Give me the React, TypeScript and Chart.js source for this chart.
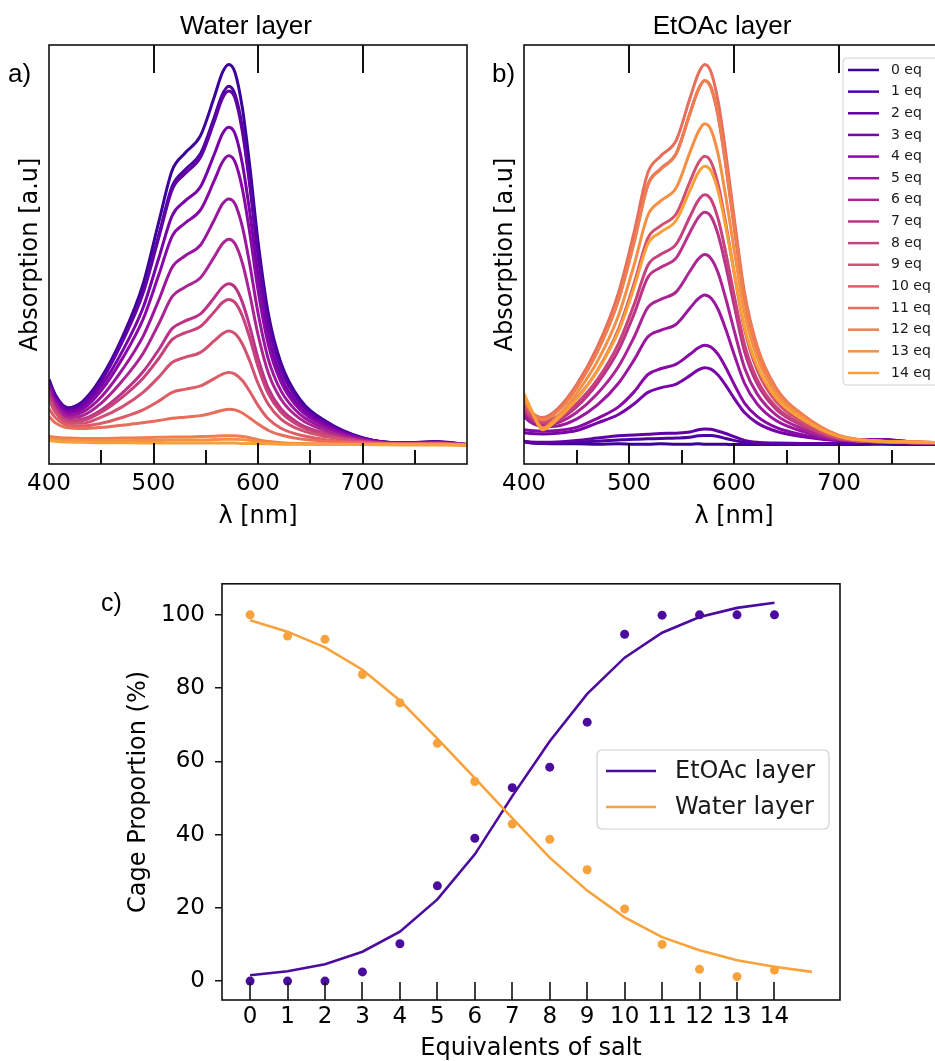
import React, { useEffect, useRef } from 'react';
import { Chart, registerables } from 'chart.js';
Chart.register(...registerables);

// ---------- Panels a) and b): spectra ----------
const wavelengths = [400, 406, 418, 432, 450, 470, 490, 505, 518, 530, 545, 558, 566, 572, 578, 585, 592, 600, 610, 622, 640, 665, 700, 740, 770, 800];
const xLabelValues = [400, 500, 600, 700];
const topTickValues = [500, 600, 700];
const majorTickValues = [500, 600, 700];
const minorTickValues = [450, 550, 650, 750];
const seriesLabels = ['0 eq', '1 eq', '2 eq', '3 eq', '4 eq', '5 eq', '6 eq', '7 eq', '8 eq', '9 eq', '10 eq', '11 eq', '12 eq', '13 eq', '14 eq'];
const seriesColors = ['#3a049a', '#4d02a2', '#6200a7', '#7702a8', '#8909a6', '#9a169f', '#aa2494', '#ba3388', '#c7417c', '#d25071', '#dd5e66', '#e66e5b', '#ef7e50', '#f58f44', '#faa039'];

// Water layer
const water0 = [0.172, 0.132, 0.098, 0.114, 0.177, 0.282, 0.422, 0.585, 0.722, 0.766, 0.812, 0.912, 0.978, 0.999, 0.978, 0.885, 0.735, 0.535, 0.343, 0.215, 0.120, 0.062, 0.019, 0.005, 0.009, 0.001];
const water1 = [0.168, 0.129, 0.096, 0.110, 0.170, 0.275, 0.405, 0.551, 0.680, 0.722, 0.765, 0.859, 0.921, 0.942, 0.921, 0.834, 0.692, 0.504, 0.323, 0.203, 0.113, 0.058, 0.018, 0.005, 0.008, 0.001];
const water2 = [0.165, 0.127, 0.094, 0.108, 0.167, 0.270, 0.398, 0.544, 0.671, 0.712, 0.755, 0.848, 0.910, 0.929, 0.910, 0.823, 0.684, 0.498, 0.319, 0.200, 0.112, 0.058, 0.018, 0.005, 0.008, 0.001];
const water3 = [0.158, 0.121, 0.089, 0.101, 0.155, 0.245, 0.360, 0.490, 0.603, 0.640, 0.678, 0.762, 0.817, 0.834, 0.817, 0.739, 0.614, 0.447, 0.287, 0.180, 0.101, 0.053, 0.017, 0.005, 0.007, 0.001];
const water4 = [0.153, 0.116, 0.084, 0.094, 0.143, 0.226, 0.330, 0.446, 0.549, 0.582, 0.617, 0.693, 0.743, 0.759, 0.743, 0.673, 0.559, 0.407, 0.262, 0.165, 0.093, 0.049, 0.016, 0.004, 0.006, 0.001];
const water5 = [0.146, 0.110, 0.078, 0.086, 0.126, 0.197, 0.285, 0.380, 0.467, 0.496, 0.525, 0.590, 0.633, 0.646, 0.633, 0.573, 0.476, 0.347, 0.224, 0.142, 0.081, 0.043, 0.014, 0.004, 0.005, 0.001];
const water6 = [0.139, 0.104, 0.072, 0.077, 0.110, 0.168, 0.240, 0.318, 0.390, 0.414, 0.439, 0.493, 0.528, 0.540, 0.528, 0.478, 0.397, 0.290, 0.188, 0.120, 0.069, 0.037, 0.012, 0.003, 0.005, 0.001];
const water7 = [0.130, 0.096, 0.065, 0.068, 0.092, 0.136, 0.192, 0.250, 0.306, 0.325, 0.344, 0.386, 0.414, 0.423, 0.414, 0.375, 0.312, 0.228, 0.148, 0.095, 0.055, 0.030, 0.010, 0.003, 0.004, 0.001];
const water8 = [0.126, 0.092, 0.062, 0.064, 0.086, 0.125, 0.175, 0.227, 0.277, 0.294, 0.311, 0.349, 0.374, 0.382, 0.374, 0.339, 0.282, 0.206, 0.134, 0.086, 0.050, 0.027, 0.009, 0.003, 0.004, 0.001];
const water9 = [0.118, 0.086, 0.057, 0.057, 0.073, 0.100, 0.138, 0.178, 0.217, 0.230, 0.243, 0.273, 0.292, 0.299, 0.292, 0.265, 0.221, 0.162, 0.106, 0.068, 0.040, 0.022, 0.008, 0.002, 0.003, 0.000];
const water10 = [0.095, 0.072, 0.052, 0.050, 0.057, 0.072, 0.092, 0.115, 0.138, 0.146, 0.155, 0.174, 0.186, 0.190, 0.186, 0.169, 0.141, 0.104, 0.068, 0.044, 0.026, 0.014, 0.005, 0.002, 0.003, 0.000];
const water11 = [0.075, 0.058, 0.045, 0.043, 0.046, 0.052, 0.058, 0.064, 0.070, 0.073, 0.077, 0.085, 0.091, 0.094, 0.092, 0.084, 0.071, 0.055, 0.038, 0.026, 0.016, 0.010, 0.005, 0.003, 0.003, 0.000];
const water12 = [0.022, 0.020, 0.018, 0.017, 0.017, 0.018, 0.019, 0.020, 0.021, 0.021, 0.022, 0.023, 0.024, 0.024, 0.024, 0.022, 0.019, 0.014, 0.009, 0.006, 0.004, 0.003, 0.002, 0.001, 0.002, 0.000];
const water13 = [0.016, 0.014, 0.012, 0.011, 0.011, 0.011, 0.012, 0.012, 0.013, 0.013, 0.013, 0.014, 0.015, 0.015, 0.015, 0.014, 0.012, 0.009, 0.006, 0.004, 0.003, 0.002, 0.001, 0.001, 0.001, 0.000];
const water14 = [0.012, 0.010, 0.008, 0.007, 0.006, 0.006, 0.005, 0.005, 0.005, 0.005, 0.005, 0.005, 0.005, 0.005, 0.005, 0.004, 0.004, 0.003, 0.003, 0.002, 0.002, 0.001, 0.001, 0.000, 0.000, 0.000];

// EtOAc layer
const etoac0 = [0.010, 0.006, 0.004, 0.003, 0.003, 0.002, 0.003, 0.002, 0.002, 0.003, 0.002, 0.002, 0.003, 0.002, 0.002, 0.002, 0.002, 0.001, 0.001, 0.001, 0.001, 0.001, 0.001, 0.002, 0.001, 0.001];
const etoac1 = [0.008, 0.006, 0.004, 0.005, 0.007, 0.010, 0.013, 0.015, 0.016, 0.017, 0.018, 0.020, 0.024, 0.025, 0.025, 0.022, 0.017, 0.012, 0.007, 0.004, 0.003, 0.002, 0.003, 0.008, 0.004, 0.003];
const etoac2 = [0.010, 0.008, 0.007, 0.008, 0.012, 0.018, 0.024, 0.026, 0.028, 0.030, 0.031, 0.034, 0.040, 0.042, 0.041, 0.036, 0.030, 0.022, 0.012, 0.007, 0.005, 0.004, 0.004, 0.010, 0.005, 0.004];
const etoac3 = [0.032, 0.030, 0.029, 0.031, 0.038, 0.058, 0.080, 0.108, 0.138, 0.150, 0.160, 0.182, 0.197, 0.203, 0.199, 0.183, 0.157, 0.123, 0.085, 0.058, 0.036, 0.022, 0.012, 0.014, 0.008, 0.005];
const etoac4 = [0.040, 0.038, 0.036, 0.038, 0.046, 0.070, 0.100, 0.140, 0.185, 0.200, 0.212, 0.238, 0.255, 0.262, 0.257, 0.237, 0.204, 0.160, 0.110, 0.075, 0.046, 0.027, 0.013, 0.014, 0.008, 0.006];
const etoac5 = [0.075, 0.060, 0.048, 0.050, 0.068, 0.105, 0.162, 0.224, 0.284, 0.301, 0.317, 0.359, 0.384, 0.394, 0.386, 0.355, 0.305, 0.239, 0.162, 0.108, 0.064, 0.036, 0.013, 0.010, 0.007, 0.005];
const etoac6 = [0.085, 0.066, 0.052, 0.058, 0.085, 0.135, 0.206, 0.284, 0.361, 0.382, 0.402, 0.456, 0.488, 0.500, 0.490, 0.451, 0.386, 0.302, 0.203, 0.134, 0.079, 0.043, 0.014, 0.008, 0.006, 0.005];
const etoac7 = [0.095, 0.072, 0.056, 0.065, 0.100, 0.162, 0.249, 0.345, 0.440, 0.466, 0.491, 0.558, 0.597, 0.611, 0.600, 0.551, 0.472, 0.368, 0.246, 0.161, 0.094, 0.051, 0.016, 0.008, 0.006, 0.005];
const etoac8 = [0.098, 0.075, 0.058, 0.068, 0.108, 0.172, 0.266, 0.370, 0.472, 0.500, 0.527, 0.599, 0.642, 0.657, 0.645, 0.592, 0.507, 0.395, 0.264, 0.172, 0.100, 0.054, 0.016, 0.008, 0.006, 0.005];
const etoac9 = [0.105, 0.080, 0.062, 0.076, 0.122, 0.196, 0.304, 0.425, 0.543, 0.575, 0.607, 0.691, 0.740, 0.758, 0.744, 0.683, 0.584, 0.455, 0.304, 0.197, 0.114, 0.061, 0.018, 0.008, 0.006, 0.005];
const etoac10 = [0.118, 0.088, 0.068, 0.090, 0.150, 0.247, 0.383, 0.536, 0.684, 0.725, 0.766, 0.871, 0.933, 0.956, 0.938, 0.861, 0.737, 0.574, 0.383, 0.249, 0.144, 0.077, 0.023, 0.010, 0.008, 0.006];
const etoac11 = [0.120, 0.090, 0.072, 0.095, 0.158, 0.258, 0.400, 0.560, 0.715, 0.758, 0.800, 0.910, 0.975, 0.999, 0.980, 0.900, 0.770, 0.600, 0.400, 0.260, 0.150, 0.080, 0.024, 0.010, 0.008, 0.006];
const etoac12 = [0.125, 0.092, 0.066, 0.088, 0.150, 0.245, 0.380, 0.533, 0.682, 0.723, 0.764, 0.869, 0.932, 0.957, 0.940, 0.865, 0.742, 0.580, 0.390, 0.255, 0.148, 0.080, 0.025, 0.010, 0.008, 0.006];
const etoac13 = [0.130, 0.095, 0.045, 0.075, 0.135, 0.220, 0.340, 0.474, 0.603, 0.640, 0.675, 0.768, 0.822, 0.843, 0.828, 0.762, 0.655, 0.515, 0.348, 0.230, 0.135, 0.073, 0.023, 0.010, 0.008, 0.006];
const etoac14 = [0.135, 0.098, 0.040, 0.068, 0.120, 0.195, 0.298, 0.415, 0.528, 0.558, 0.590, 0.668, 0.715, 0.732, 0.720, 0.665, 0.575, 0.455, 0.310, 0.208, 0.124, 0.068, 0.022, 0.010, 0.008, 0.006];

const waterSeries = [water0, water1, water2, water3, water4, water5, water6, water7, water8, water9, water10, water11, water12, water13, water14];
const etoacSeries = [etoac0, etoac1, etoac2, etoac3, etoac4, etoac5, etoac6, etoac7, etoac8, etoac9, etoac10, etoac11, etoac12, etoac13, etoac14];

// ---------- Panel c): cage proportion ----------
const equivalents = [0, 1, 2, 3, 4, 5, 6, 7, 8, 9, 10, 11, 12, 13, 14];
const etoacPoints = [0, 0, 0, 2.5, 10.2, 26.0, 39.0, 52.8, 58.4, 70.7, 94.7, 99.9, 100, 100, 100];
const waterPoints = [100, 94.2, 93.3, 83.7, 76.0, 64.9, 54.5, 42.9, 38.7, 30.4, 19.7, 10.0, 3.2, 1.2, 3.0];
const etoacFitX = [0, 1, 2, 3, 4, 5, 6, 7, 8, 9, 10, 11, 12, 13, 14];
const etoacFit = [1.6, 2.7, 4.6, 8.0, 13.5, 22.3, 34.6, 50.5, 65.5, 78.4, 88.3, 95.1, 99.4, 101.9, 103.3];
const waterFitX = [0, 1, 2, 3, 4, 5, 6, 7, 8, 9, 10, 11, 12, 13, 14, 15];
const waterFit = [98.5, 95.4, 91.1, 85.0, 76.6, 66.2, 55.4, 44.5, 33.7, 24.7, 17.4, 12.0, 8.4, 5.7, 3.9, 2.5];
const cageYTicks = [0, 20, 40, 60, 80, 100];
const layerLabels = ['EtOAc layer', 'Water layer'];
const layerColors = ['#4b0c9e', '#f7a23b'];

const SANS = '"DejaVu Sans", sans-serif';
const HEAD = '"Liberation Sans", Arial, sans-serif';
Chart.defaults.font.family = SANS;
Chart.defaults.color = '#000';

function spectrumConfig(series: number[][], title: string, letter: string, letterX: number, padRight: number, yWidth: number, yTitlePad: number, withLegend: boolean) {
  const datasets = series.map((vals, i) => ({
    label: seriesLabels[i],
    data: wavelengths.map((w, j) => ({ x: w, y: vals[j] })),
    borderColor: seriesColors[i],
    backgroundColor: seriesColors[i],
    borderWidth: 3,
    pointRadius: 0,
    cubicInterpolationMode: 'monotone',
    fill: false,
    order: -i,
  }));
  const decor = {
    id: 'spectrumDecor',
    afterDraw(chart: any) {
      const { ctx, chartArea: a } = chart;
      const xs = chart.scales.x;
      ctx.save();
      ctx.strokeStyle = '#111';
      ctx.lineWidth = 2;
      ctx.beginPath();
      topTickValues.forEach((v) => {
        const px = Math.round(xs.getPixelForValue(v));
        ctx.moveTo(px, a.top); ctx.lineTo(px, a.top + 28);
      });
      majorTickValues.forEach((v) => {
        const px = Math.round(xs.getPixelForValue(v));
        ctx.moveTo(px, a.bottom); ctx.lineTo(px, a.bottom - 21);
      });
      minorTickValues.forEach((v) => {
        const px = Math.round(xs.getPixelForValue(v));
        ctx.moveTo(px, a.bottom); ctx.lineTo(px, a.bottom - 14);
      });
      ctx.stroke();
      ctx.lineWidth = 1.6;
      ctx.strokeRect(a.left, a.top, a.right - a.left, a.bottom - a.top);
      ctx.fillStyle = '#000';
      ctx.font = '26px ' + HEAD;
      ctx.textAlign = 'center';
      ctx.textBaseline = 'alphabetic';
      ctx.fillText(title, (a.left + a.right) / 2 - 12, 34);
      ctx.textAlign = 'left';
      ctx.fillText(letter, letterX, 82);
      if (withLegend) {
        const bx = 367, by = 58, bw = 130, bh = 327;
        ctx.beginPath();
        ctx.roundRect(bx, by, bw, bh, 4);
        ctx.fillStyle = 'rgba(255,255,255,0.85)';
        ctx.fill();
        ctx.strokeStyle = '#d0d0d0';
        ctx.lineWidth = 1;
        ctx.stroke();
        ctx.font = '14px ' + SANS;
        ctx.textBaseline = 'middle';
        chart.data.datasets.forEach((ds: any, i: number) => {
          const y = 70 + i * 21.64;
          ctx.strokeStyle = ds.borderColor;
          ctx.lineWidth = 2.5;
          ctx.beginPath();
          ctx.moveTo(372, y); ctx.lineTo(403, y);
          ctx.stroke();
          ctx.fillStyle = '#1a1a1a';
          ctx.fillText(ds.label, 415, y);
        });
      }
      ctx.restore();
    },
  };
  return {
    type: 'line',
    data: { datasets },
    options: {
      animation: false,
      responsive: false,
      devicePixelRatio: 1,
      layout: { padding: { left: 0, right: padRight, top: 45, bottom: 0 } },
      plugins: { legend: { display: false }, tooltip: { enabled: false }, title: { display: false } },
      scales: {
        x: {
          type: 'linear', min: 400, max: 800,
          afterBuildTicks: (s: any) => { s.ticks = xLabelValues.map((v) => ({ value: v })); },
          afterFit: (s: any) => { s.height = 76; },
          grid: { display: false, drawTicks: false },
          border: { display: false },
          ticks: { padding: 6, font: { size: 23 }, color: '#000', maxRotation: 0, autoSkip: false },
          title: { display: true, text: 'λ [nm]', font: { size: 24 }, color: '#000', padding: { top: 0, bottom: 9 } },
        },
        y: {
          type: 'linear', min: -0.05, max: 1.05,
          afterFit: (s: any) => { s.width = yWidth; },
          grid: { display: false, drawTicks: false },
          border: { display: false },
          ticks: { display: false },
          title: { display: true, text: 'Absorption [a.u]', font: { size: 24 }, color: '#000', padding: { top: yTitlePad, bottom: 0 } },
        },
      },
    },
    plugins: [decor],
  };
}

function cageConfig() {
  const decor = {
    id: 'cageDecor',
    afterDraw(chart: any) {
      const { ctx, chartArea: a } = chart;
      const xs = chart.scales.x;
      ctx.save();
      ctx.strokeStyle = '#111';
      ctx.lineWidth = 1.6;
      ctx.beginPath();
      equivalents.forEach((v) => {
        const px = Math.round(xs.getPixelForValue(v));
        ctx.moveTo(px, a.bottom); ctx.lineTo(px, a.bottom - 18);
      });
      ctx.stroke();
      ctx.strokeRect(a.left, a.top, a.right - a.left, a.bottom - a.top);
      ctx.fillStyle = '#000';
      ctx.font = '25px ' + HEAD;
      ctx.textAlign = 'left';
      ctx.textBaseline = 'alphabetic';
      ctx.fillText('c)', 11, 51);
      // legend
      const bx = 507, by = 190, bw = 232, bh = 79;
      ctx.beginPath();
      ctx.roundRect(bx, by, bw, bh, 5);
      ctx.fillStyle = 'rgba(255,255,255,0.85)';
      ctx.fill();
      ctx.strokeStyle = '#d0d0d0';
      ctx.lineWidth = 1.2;
      ctx.stroke();
      ctx.font = '24px ' + SANS;
      ctx.textBaseline = 'middle';
      layerLabels.forEach((lab, i) => {
        const y = 211 + i * 36;
        ctx.strokeStyle = layerColors[i];
        ctx.lineWidth = 2.6;
        ctx.beginPath();
        ctx.moveTo(516, y); ctx.lineTo(566, y);
        ctx.stroke();
        ctx.fillStyle = '#1a1a1a';
        ctx.fillText(lab, 585, y + 1);
      });
      ctx.restore();
    },
  };
  return {
    type: 'scatter',
    data: {
      datasets: [
        { type: 'line', label: layerLabels[0], data: etoacFitX.map((x, i) => ({ x, y: etoacFit[i] })), borderColor: layerColors[0], borderWidth: 2.6, pointRadius: 0, tension: 0, showLine: true, fill: false, order: 3 },
        { type: 'line', label: layerLabels[1], data: waterFitX.map((x, i) => ({ x, y: waterFit[i] })), borderColor: layerColors[1], borderWidth: 2.6, pointRadius: 0, tension: 0, showLine: true, fill: false, order: 2 },
        { label: 'EtOAc data', data: equivalents.map((x, i) => ({ x, y: etoacPoints[i] })), backgroundColor: layerColors[0], borderColor: layerColors[0], pointRadius: 4.5, borderWidth: 0, order: 1 },
        { label: 'Water data', data: equivalents.map((x, i) => ({ x, y: waterPoints[i] })), backgroundColor: layerColors[1], borderColor: layerColors[1], pointRadius: 4.5, borderWidth: 0, order: 0 },
      ],
    },
    options: {
      animation: false,
      responsive: false,
      devicePixelRatio: 1,
      layout: { padding: { left: 0, right: 20, top: 21, bottom: 0 } },
      plugins: { legend: { display: false }, tooltip: { enabled: false } },
      scales: {
        x: {
          type: 'linear', min: -0.75, max: 15.75,
          afterBuildTicks: (s: any) => { s.ticks = equivalents.map((v) => ({ value: v })); },
          afterFit: (s: any) => { s.height = 61; },
          grid: { display: false, drawTicks: false },
          border: { display: false },
          ticks: { padding: 3, font: { size: 23 }, color: '#000', maxRotation: 0, autoSkip: false },
          title: { display: true, text: 'Equivalents of salt', font: { size: 24, lineHeight: 1 }, color: '#000', padding: { top: 0, bottom: 0 } },
        },
        y: {
          type: 'linear', min: -5.17, max: 108.47,
          afterBuildTicks: (s: any) => { s.ticks = cageYTicks.map((v) => ({ value: v })); },
          afterFit: (s: any) => { s.width = 132; },
          grid: { display: true, drawOnChartArea: false, drawTicks: true, tickLength: 7, color: '#111', lineWidth: 1.5 },
          border: { display: false },
          ticks: { padding: 10, font: { size: 23 }, color: '#000' },
          title: { display: true, text: 'Cage Proportion (%)', font: { size: 24 }, color: '#000', padding: { top: 34, bottom: 0 } },
        },
      },
    },
    plugins: [decor],
  };
}

export default function App() {
  const aRef = useRef<HTMLCanvasElement>(null);
  const bRef = useRef<HTMLCanvasElement>(null);
  const cRef = useRef<HTMLCanvasElement>(null);
  useEffect(() => {
    const charts: Chart[] = [];
    if (aRef.current) charts.push(new Chart(aRef.current, spectrumConfig(waterSeries, 'Water layer', 'a)', 8, 13, 49, 16, false) as any));
    if (bRef.current) charts.push(new Chart(bRef.current, spectrumConfig(etoacSeries, 'EtOAc layer', 'b)', 16, 12, 48, 15, true) as any));
    if (cRef.current) charts.push(new Chart(cRef.current, cageConfig() as any));
    return () => charts.forEach((c) => c.destroy());
  }, []);
  return (
    <div style={{ position: 'fixed', left: 0, top: 0, width: 935, height: 1061, overflow: 'hidden', background: '#fff' }}>
      <canvas ref={aRef} width={480} height={540} style={{ position: 'absolute', left: 0, top: 0, width: 480, height: 540, display: 'block' }} />
      <canvas ref={bRef} width={480} height={540} style={{ position: 'absolute', left: 476, top: 0, width: 480, height: 540, display: 'block' }} />
      <canvas ref={cRef} width={770} height={501} style={{ position: 'absolute', left: 90, top: 560, width: 770, height: 501, display: 'block' }} />
    </div>
  );
}
